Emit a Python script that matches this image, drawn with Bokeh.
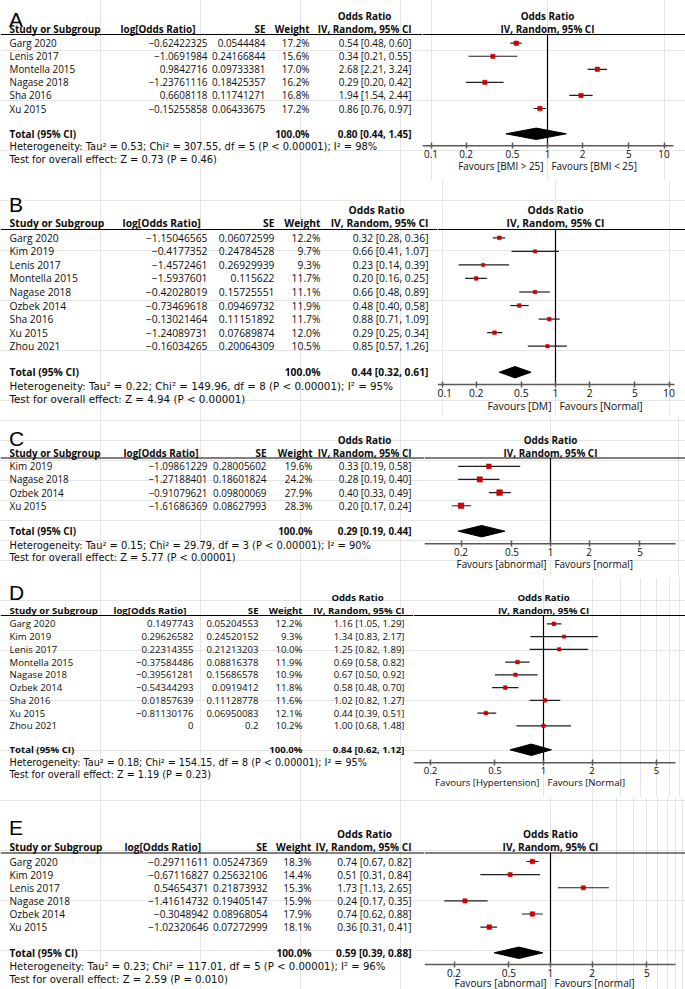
import math
from bokeh.plotting import figure
from bokeh.models import (ColumnDataSource, Range1d, LogAxis, FixedTicker, Span,
                          CustomJSTickFormatter, LogScale)
from bokeh.layouts import column, row
from bokeh.embed import file_html
from bokeh.resources import INLINE
from bokeh.core.properties import value

# ---------------------------------------------------------------- data
A_study = ["Garg 2020", "Lenis 2017", "Montella 2015", "Nagase 2018", "Sha 2016", "Xu 2015"]
A_logor = [-0.62422325, -1.0691984, 0.9842716, -1.23761116, 0.6608118, -0.15255858]
A_se = [0.0544484, 0.24166844, 0.09733381, 0.18425357, 0.11741271, 0.06433675]
A_weight = [17.2, 15.6, 17.0, 16.2, 16.8, 17.2]
A_or = [0.54, 0.34, 2.68, 0.29, 1.94, 0.86]
A_lo = [0.48, 0.21, 2.21, 0.20, 1.54, 0.76]
A_hi = [0.60, 0.55, 3.24, 0.42, 2.44, 0.97]
A_total = [0.80, 0.44, 1.45]
A_het = "Heterogeneity: Tau\u00b2 = 0.53; Chi\u00b2 = 307.55, df = 5 (P < 0.00001); I\u00b2 = 98%"
A_test = "Test for overall effect: Z = 0.73 (P = 0.46)"
A_favours = ["Favours [BMI > 25]", "Favours [BMI < 25]"]
A_ticks = [0.1, 0.2, 0.5, 1, 2, 5, 10]

B_study = ["Garg 2020", "Kim 2019", "Lenis 2017", "Montella 2015", "Nagase 2018",
           "Ozbek 2014", "Sha 2016", "Xu 2015", "Zhou 2021"]
B_logor = [-1.15046565, -0.4177352, -1.4572461, -1.5937601, -0.42028019,
           -0.73469618, -0.13021464, -1.24089731, -0.16034265]
B_se = [0.06072599, 0.24784528, 0.26929939, 0.115622, 0.15725551,
        0.09469732, 0.11151892, 0.07689874, 0.20064309]
B_weight = [12.2, 9.7, 9.3, 11.7, 11.1, 11.9, 11.7, 12.0, 10.5]
B_or = [0.32, 0.66, 0.23, 0.20, 0.66, 0.48, 0.88, 0.29, 0.85]
B_lo = [0.28, 0.41, 0.14, 0.16, 0.48, 0.40, 0.71, 0.25, 0.57]
B_hi = [0.36, 1.07, 0.39, 0.25, 0.89, 0.58, 1.09, 0.34, 1.26]
B_total = [0.44, 0.32, 0.61]
B_het = "Heterogeneity: Tau\u00b2 = 0.22; Chi\u00b2 = 149.96, df = 8 (P < 0.00001); I\u00b2 = 95%"
B_test = "Test for overall effect: Z = 4.94 (P < 0.00001)"
B_favours = ["Favours [DM]", "Favours [Normal]"]
B_ticks = [0.1, 0.2, 0.5, 1, 2, 5, 10]

C_study = ["Kim 2019", "Nagase 2018", "Ozbek 2014", "Xu 2015"]
C_logor = [-1.09861229, -1.27188401, -0.91079621, -1.61686369]
C_se = [0.28005602, 0.18601824, 0.09800069, 0.08627993]
C_weight = [19.6, 24.2, 27.9, 28.3]
C_or = [0.33, 0.28, 0.40, 0.20]
C_lo = [0.19, 0.19, 0.33, 0.17]
C_hi = [0.58, 0.40, 0.49, 0.24]
C_total = [0.29, 0.19, 0.44]
C_het = "Heterogeneity: Tau\u00b2 = 0.15; Chi\u00b2 = 29.79, df = 3 (P < 0.00001); I\u00b2 = 90%"
C_test = "Test for overall effect: Z = 5.77 (P < 0.00001)"
C_favours = ["Favours [abnormal]", "Favours [normal]"]
C_ticks = [0.2, 0.5, 1, 2, 5]

D_study = ["Garg 2020", "Kim 2019", "Lenis 2017", "Montella 2015", "Nagase 2018",
           "Ozbek 2014", "Sha 2016", "Xu 2015", "Zhou 2021"]
D_logor = [0.1497743, 0.29626582, 0.22314355, -0.37584486, -0.39561281,
           -0.54344293, 0.01857639, -0.81130176, 0.0]
D_se = [0.05204553, 0.24520152, 0.21213203, 0.08816378, 0.15686578,
        0.0919412, 0.11128778, 0.06950083, 0.2]
D_weight = [12.2, 9.3, 10.0, 11.9, 10.9, 11.8, 11.6, 12.1, 10.2]
D_or = [1.16, 1.34, 1.25, 0.69, 0.67, 0.58, 1.02, 0.44, 1.00]
D_lo = [1.05, 0.83, 0.82, 0.58, 0.50, 0.48, 0.82, 0.39, 0.68]
D_hi = [1.29, 2.17, 1.89, 0.82, 0.92, 0.70, 1.27, 0.51, 1.48]
D_total = [0.84, 0.62, 1.12]
D_het = "Heterogeneity: Tau\u00b2 = 0.18; Chi\u00b2 = 154.15, df = 8 (P < 0.00001); I\u00b2 = 95%"
D_test = "Test for overall effect: Z = 1.19 (P = 0.23)"
D_favours = ["Favours [Hypertension]", "Favours [Normal]"]
D_ticks = [0.2, 0.5, 1, 2, 5]

E_study = ["Garg 2020", "Kim 2019", "Lenis 2017", "Nagase 2018", "Ozbek 2014", "Xu 2015"]
E_logor = [-0.29711611, -0.67116827, 0.54654371, -1.41614732, -0.3048942, -1.02320646]
E_se = [0.05247369, 0.25632106, 0.21873932, 0.19405147, 0.08968054, 0.07272999]
E_weight = [18.3, 14.4, 15.3, 15.9, 17.9, 18.1]
E_or = [0.74, 0.51, 1.73, 0.24, 0.74, 0.36]
E_lo = [0.67, 0.31, 1.13, 0.17, 0.62, 0.31]
E_hi = [0.82, 0.84, 2.65, 0.35, 0.88, 0.41]
E_total = [0.59, 0.39, 0.88]
E_het = "Heterogeneity: Tau\u00b2 = 0.23; Chi\u00b2 = 117.01, df = 5 (P < 0.00001); I\u00b2 = 96%"
E_test = "Test for overall effect: Z = 2.59 (P = 0.010)"
E_favours = ["Favours [abnormal]", "Favours [normal]"]
E_ticks = [0.2, 0.5, 1, 2, 5]

HEADERS = ["Study or Subgroup", "log[Odds Ratio]", "SE", "Weight", "IV, Random, 95% CI"]
OR_HEADER = "Odds Ratio"
TOTAL_LABEL = "Total (95% CI)"
TOTAL_WEIGHT = 100.0

# ---------------------------------------------------------------- layout (page pixel coords)
PAGE_RIGHT = 685
FONT = "Open Sans"
FONT_NOTE = "DejaVu Sans"
TEXT = "#0c0c0c"
RED = "#CC0000"
AXIS = "#5a5a5a"

LAYOUT = {
    "A": dict(top=0, bot=180, fs=9.9, letter=18.5, orh=15, hdr=28, line=34, row0=42.7, step=13.06,
              total=133.3, het=146.3, test=159.3, axis=145.3, fav=165.7,
              xn=9, xlh=120, xl=207, xse=265, xw=309, xci=411, xorc=364,
              p1=547, dec=116.5, ax0=422, ax1=673),
    "B": dict(top=180, bot=415, fs=10.3, letter=204, orh=209, hdr=222, line=229, row0=237.3, step=13.55,
              total=371.7, het=385.3, test=398.8, axis=384, fav=405,
              xn=9, xlh=122, xl=207, xse=274, xw=320, xci=428, xorc=376,
              p1=555, dec=113.5, ax0=437, ax1=674),
    "C": dict(top=415, bot=577, fs=9.9, letter=438, orh=439, hdr=452, line=457.5, row0=465.8, step=13.15,
              total=530.7, het=544.5, test=557.3, axis=543.3, fav=563.3,
              xn=9, xlh=123, xl=207, xse=266, xw=312, xci=411, xorc=364,
              p1=550, dec=128, ax0=424, ax1=675),
    "D": dict(top=577, bot=797, fs=9.6, letter=592, orh=597, hdr=609.5, line=615, row0=623.3, step=12.75,
              total=749.3, het=761.7, test=774, axis=762.3, fav=781.7,
              xn=9, xlh=113, xl=193, xse=258, xw=302, xci=404, xorc=357,
              p1=543, dec=161.5, ax0=413, ax1=675),
    "E": dict(top=797, bot=989, fs=10.1, letter=827, orh=833.3, hdr=846.7, line=852.5, row0=861, step=13.13,
              total=952.3, het=965.7, test=979, axis=964, fav=982.3,
              xn=9, xlh=124, xl=208, xse=267, xw=311, xci=411, xorc=364,
              p1=550, dec=138, ax0=424, ax1=675),
}

DATA = {
    "A": (A_study, A_logor, A_se, A_weight, A_or, A_lo, A_hi, A_total, A_het, A_test, A_favours, A_ticks),
    "B": (B_study, B_logor, B_se, B_weight, B_or, B_lo, B_hi, B_total, B_het, B_test, B_favours, B_ticks),
    "C": (C_study, C_logor, C_se, C_weight, C_or, C_lo, C_hi, C_total, C_het, C_test, C_favours, C_ticks),
    "D": (D_study, D_logor, D_se, D_weight, D_or, D_lo, D_hi, D_total, D_het, D_test, D_favours, D_ticks),
    "E": (E_study, E_logor, E_se, E_weight, E_or, E_lo, E_hi, E_total, E_het, E_test, E_favours, E_ticks),
}


def fmt_num(v):
    s = f"{v:.8f}".rstrip("0").rstrip(".")
    return s.replace("-", "\u2212")


def fmt_ci(o, l, h):
    return f"{o:.2f} [{l:.2f}, {h:.2f}]"


def put(p, xs, ys, texts, align="left", size=9.9, bold=False, font=FONT, color=TEXT,
        x_offset=0, baseline="middle"):
    src = ColumnDataSource(dict(x=list(xs), y=list(ys), text=list(texts)))
    p.text(x="x", y="y", text="text", source=src, text_align=align, text_baseline=baseline,
           text_font=value(font), text_font_size=f"{size:.2f}px",
           text_font_style="bold" if bold else "normal", text_color=color, x_offset=x_offset)


def base_fig(width, height, x_range, y_range, log=False):
    kw = dict(width=width, height=height, x_range=x_range, y_range=y_range,
              x_axis_location=None, y_axis_location=None, toolbar_location=None,
              tools="", output_backend="svg", min_border=0, outline_line_color=None,
              background_fill_color="white", border_fill_color="white")
    if log:
        kw["x_axis_type"] = "log"
    p = figure(**kw)
    if log:
        p.x_scale = LogScale()
    return p


def panel(letter):
    (study, logor, se, weight, orv, lo, hi, total, het, test, favours, ticks) = DATA[letter]
    L = LAYOUT[letter]
    fs = L["fs"]
    fs_note = fs
    H = L["bot"] - L["top"]
    n = len(study)
    ys = [L["row0"] + L["step"] * i for i in range(n)]
    yr = Range1d(L["bot"], L["top"])

    # ---------------- table part
    t = base_fig(L["ax0"], H, Range1d(0, L["ax0"]), yr)
    t.add_layout(Span(location=L["line"], dimension="width", line_color="black", line_width=1))
    put(t, [L["xn"] - 0.5], [L["letter"]], [letter], size=21, font="Liberation Sans",
        color="black", baseline="alphabetic")
    put(t, [L["xorc"]], [L["orh"]], [OR_HEADER], align="center", size=fs, bold=True)
    put(t, [L["xn"], L["xlh"]], [L["hdr"]] * 2, HEADERS[:2], size=fs, bold=True)
    put(t, [L["xse"], L["xw"], L["xci"]], [L["hdr"]] * 3, HEADERS[2:], align="right", size=fs, bold=True)
    put(t, [L["xn"]] * n, ys, study, size=fs)
    put(t, [L["xl"]] * n, ys, [fmt_num(v) for v in logor], align="right", size=fs)
    put(t, [L["xse"]] * n, ys, [fmt_num(v) for v in se], align="right", size=fs)
    put(t, [L["xw"]] * n, ys, [f"{w:.1f}%" for w in weight], align="right", size=fs)
    put(t, [L["xci"]] * n, ys, [fmt_ci(o, a, b) for o, a, b in zip(orv, lo, hi)], align="right", size=fs)
    put(t, [L["xn"]], [L["total"]], [TOTAL_LABEL], size=fs, bold=True)
    put(t, [L["xw"]], [L["total"]], [f"{TOTAL_WEIGHT:.1f}%"], align="right", size=fs, bold=True)
    put(t, [L["xci"]], [L["total"]], [fmt_ci(*total)], align="right", size=fs, bold=True)
    put(t, [L["xn"]] * 2, [L["het"], L["test"]], [het, test], size=fs_note, font=FONT_NOTE)

    # ---------------- forest part
    x_start = 10 ** ((L["ax0"] - L["p1"]) / L["dec"])
    x_end = 10 ** ((PAGE_RIGHT - L["p1"]) / L["dec"])
    x_axis_end = 10 ** ((L["ax1"] - L["p1"]) / L["dec"])
    f = base_fig(PAGE_RIGHT - L["ax0"], H, Range1d(x_start, x_end), yr, log=True)
    f.add_layout(Span(location=L["line"], dimension="width", line_color="black", line_width=1))
    put(f, [1, 1], [L["orh"], L["hdr"]], [OR_HEADER, HEADERS[4]], align="center", size=fs, bold=True)

    # line of no effect
    f.segment(x0=[1], x1=[1], y0=[L["line"]], y1=[L["axis"]], line_color="black", line_width=1.2)

    src = ColumnDataSource(dict(y=ys, o=orv, lo=lo, hi=hi,
                                sz=[1.08 * math.sqrt(w) for w in weight]))
    f.segment(x0="lo", x1="hi", y0="y", y1="y", source=src, line_color="#1f1f1f", line_width=1.2)
    f.scatter(x="o", y="y", size="sz", marker="square", source=src,
              fill_color=RED, line_color=RED, line_width=0.5)

    est, tlo, thi = total
    dh = 5.7
    ty = L["total"]
    f.patch(x=[tlo, est, thi, est], y=[ty, ty - dh, ty, ty + dh], fill_color="black", line_color="black")

    # axis
    f.segment(x0=[x_start], x1=[x_axis_end], y0=[L["axis"]], y1=[L["axis"]], line_color=AXIS, line_width=1.6)
    ax = LogAxis(fixed_location=L["axis"], ticker=FixedTicker(ticks=ticks, minor_ticks=[]),
                 formatter=CustomJSTickFormatter(code="return String(tick)"),
                 axis_line_color=None, major_tick_in=3, major_tick_out=3,
                 major_tick_line_color=AXIS, major_tick_line_width=1.5,
                 minor_tick_line_color=None, major_label_standoff=1,
                 major_label_text_font=FONT, major_label_text_font_size=f"{fs:.2f}px",
                 major_label_text_color=TEXT)
    f.add_layout(ax, "below")
    put(f, [1], [L["fav"]], [favours[0]], align="right", size=fs, x_offset=-4)
    put(f, [1], [L["fav"]], [favours[1]], align="left", size=fs, x_offset=4)

    return row(t, f, spacing=0)


layout = column(*[panel(k) for k in ["A", "B", "C", "D", "E"]], spacing=0)

open("out.html", "w").write(file_html(layout, INLINE))
